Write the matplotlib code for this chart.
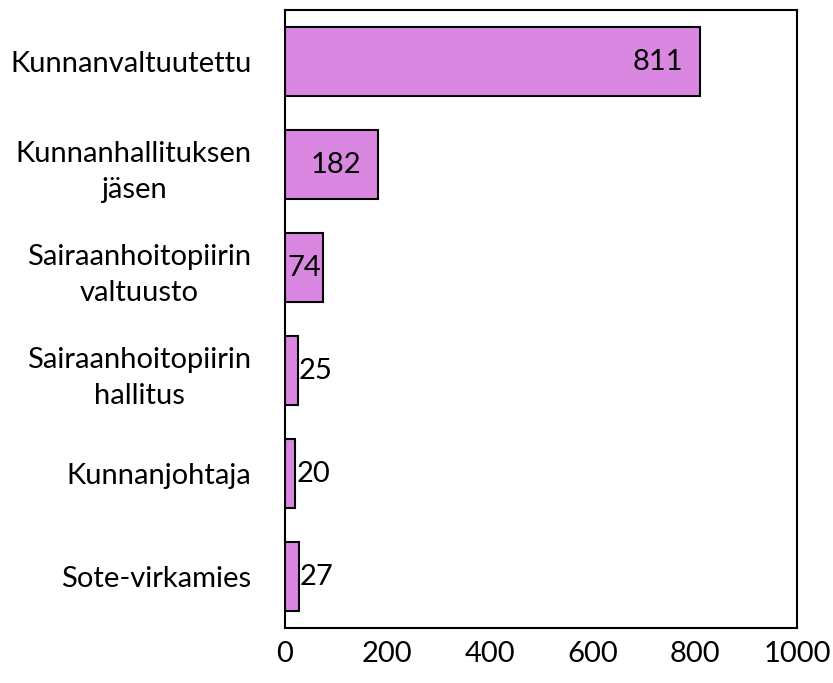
import matplotlib
matplotlib.use("Agg")
import matplotlib.pyplot as plt

categories = ["Kunnanvaltuutettu", "Kunnanhallituksen\njäsen", "Sairaanhoitopiirin\nvaltuusto",
              "Sairaanhoitopiirin\nhallitus", "Kunnanjohtaja", "Sote-virkamies"]
values = [811, 182, 74, 25, 20, 27]
xticks = [0, 200, 400, 600, 800, 1000]

plt.rcParams["font.family"] = ["Lato", "DejaVu Sans"]

fig = plt.figure(figsize=(8.33, 6.83), dpi=100)
ax = fig.add_axes([0.342, 0.0805, 0.615, 0.9045])

ypos = list(range(len(categories)))
ax.barh(ypos, values, height=0.67, color="#DA87E2", edgecolor="black", linewidth=1.5)
ax.set_ylim(len(categories) - 0.5, -0.5)
ax.set_xlim(0, 1000)
ax.set_xticks(xticks)
ax.set_yticks(ypos)
ax.set_yticklabels(categories, fontsize=21, ha="right", multialignment="center",
                   linespacing=1.45)
ax.tick_params(axis="y", length=0, pad=24)
ax.tick_params(axis="x", length=0, pad=9, labelsize=21)
for s in ax.spines.values():
    s.set_linewidth(1.5)

# Excel-tyyliset arvojen paikat
for y, v in zip(ypos, values):
    if v >= 100:
        ax.annotate(str(v), (v, y), xytext=(-12, 0), textcoords="offset points",
                    ha="right", va="center", fontsize=21)
    elif v >= 50:
        ax.annotate(str(v), (v, y), xytext=(-1, 0), textcoords="offset points",
                    ha="right", va="center", fontsize=21)
    else:
        ax.annotate(str(v), (v, y), xytext=(1, 0), textcoords="offset points",
                    ha="left", va="center", fontsize=21)

fig.savefig("out.png", dpi=100)
